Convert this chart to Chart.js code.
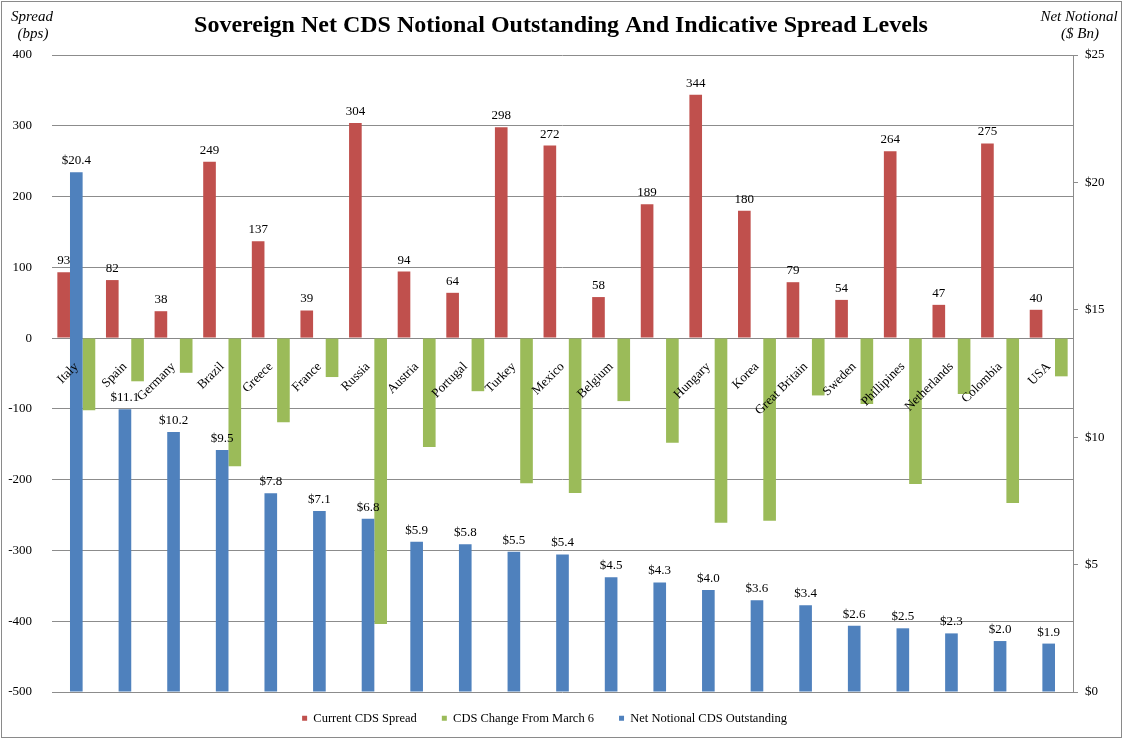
<!DOCTYPE html>
<html lang="en">
<head>
  <meta charset="UTF-8" />
  <title>Sovereign Net CDS Notional Outstanding And Indicative Spread Levels</title>
  <script src="https://cdn.jsdelivr.net/npm/chart.js"></script>
  <style>
    body { margin: 0; background: #fff; }
    canvas { display: block; }
  </style>
</head>
<body>
  <canvas id="chart" width="1131" height="740"></canvas>
  <script>
    // countries (one label is blank in the source chart)
    const countries = ['Italy', 'Spain', 'Germany', 'Brazil', 'Greece', 'France', 'Russia', 'Austria',
      'Portugal', 'Turkey', 'Mexico', 'Belgium', '', 'Hungary', 'Korea', 'Great Britain', 'Sweden',
      'Phillipines', 'Netherlands', 'Colombia', 'USA'];

    // bps
    const currentSpread = [93, 82, 38, 249, 137, 39, 304, 94, 64, 298, 272, 58, 189, 344, 180, 79, 54, 264, 47, 275, 40];
    const changeFromMarch6 = [-102, -61, -49, -181, -119, -55, -404, -154, -75, -205, -219, -89, -148, -261, -258, -81, -93, -206, -79, -233, -54];

    // $ Bn
    const netNotional = [20.4, 11.1, 10.2, 9.5, 7.8, 7.1, 6.8, 5.9, 5.8, 5.5, 5.4, 4.5, 4.3, 4.0, 3.6, 3.4, 2.6, 2.5, 2.3, 2.0, 1.9];

    const spreadTicks = [-500, -400, -300, -200, -100, 0, 100, 200, 300, 400];
    const notionalTicks = [0, 5, 10, 15, 20, 25];

    const serif = '"Liberation Serif", "Times New Roman", serif';

    const frame = {
      id: 'frame',
      beforeDraw(chart) {
        const ctx = chart.ctx;
        ctx.save();
        ctx.fillStyle = '#fff';
        ctx.fillRect(0, 0, chart.width, chart.height);
        ctx.strokeStyle = '#8a8a8a';
        ctx.lineWidth = 1;
        ctx.strokeRect(1.5, 1.5, 1120, 736);
        ctx.restore();
      },
      afterLayout(chart) {
        // the source legend sits a little left of centre and close to the plot
        if (chart.legend) {
          chart.legend.left -= 42;
          chart.legend.top -= 5;
        }
      },
      afterDraw(chart) {
        const ctx = chart.ctx;
        ctx.save();
        ctx.fillStyle = '#000';
        ctx.textAlign = 'center';
        ctx.textBaseline = 'middle';
        ctx.font = 'bold 24px ' + serif;
        ctx.fillText('Sovereign Net CDS Notional Outstanding And Indicative Spread Levels', 561, 26);
        ctx.font = 'italic 15px ' + serif;
        ctx.fillText('Spread', 32, 17);
        ctx.fillText('(bps)', 33, 34);
        ctx.fillText('Net Notional', 1079, 17);
        ctx.fillText('($ Bn)', 1080, 34);
        ctx.restore();
      }
    };

    const valueLabels = {
      id: 'valueLabels',
      afterDatasetsDraw(chart) {
        const ctx = chart.ctx;
        ctx.save();
        ctx.fillStyle = '#000';
        ctx.font = '13px ' + serif;
        ctx.textAlign = 'center';
        ctx.textBaseline = 'bottom';
        chart.getDatasetMeta(0).data.forEach((bar, i) => {
          ctx.fillText(String(currentSpread[i]), bar.x, bar.y - 5);
        });
        chart.getDatasetMeta(1).data.forEach((bar, i) => {
          ctx.fillText('$' + netNotional[i].toFixed(1), bar.x, bar.y - 5);
        });
        ctx.restore();
      }
    };

    const legendRank = [0, 2, 1];

    new Chart(document.getElementById('chart'), {
      type: 'bar',
      data: {
        labels: countries,
        datasets: [
          { label: 'Current CDS Spread', data: currentSpread, backgroundColor: '#C0504D', yAxisID: 'y' },
          { label: 'Net Notional CDS Outstanding', data: netNotional, backgroundColor: '#4F81BD', yAxisID: 'y1' },
          { label: 'CDS Change From March 6', data: changeFromMarch6, backgroundColor: '#9BBB59', yAxisID: 'y' }
        ]
      },
      options: {
        responsive: false,
        animation: false,
        categoryPercentage: 0.78,
        barPercentage: 1.0,
        layout: { padding: { top: 55, bottom: 0.5, left: 0, right: 0 } },
        plugins: {
          title: { display: false },
          tooltip: { enabled: false },
          legend: {
            position: 'bottom',
            labels: {
              boxWidth: 5,
              boxHeight: 5,
              padding: 25,
              color: '#000',
              font: { family: serif, size: 12.5 },
              sort: (a, b) => legendRank[a.datasetIndex] - legendRank[b.datasetIndex]
            }
          }
        },
        scales: {
          x: {
            position: { y: 0 },
            grid: { display: false },
            border: { display: true, color: '#888' },
            ticks: {
              z: 1,
              autoSkip: false,
              minRotation: 45,
              maxRotation: 45,
              padding: 13,
              color: '#000',
              font: { family: serif, size: 13 }
            }
          },
          y: {
            position: 'left',
            min: -500,
            max: 400,
            afterFit(scale) { scale.width = 52; },
            afterBuildTicks(scale) { scale.ticks = spreadTicks.map(v => ({ value: v })); },
            grid: { color: '#8c8c8c', drawTicks: false },
            border: { display: false },
            ticks: { padding: 20, color: '#000', font: { family: serif, size: 13 } }
          },
          y1: {
            position: 'right',
            min: 0,
            max: 25,
            afterFit(scale) { scale.width = 58; },
            afterBuildTicks(scale) { scale.ticks = notionalTicks.map(v => ({ value: v })); },
            grid: { drawOnChartArea: false, color: '#8c8c8c', tickLength: 5 },
            border: { display: true, color: '#8c8c8c' },
            ticks: {
              padding: 7,
              color: '#000',
              font: { family: serif, size: 13 },
              callback: v => '$' + v
            }
          }
        }
      },
      plugins: [frame, valueLabels]
    });
  </script>
</body>
</html>
